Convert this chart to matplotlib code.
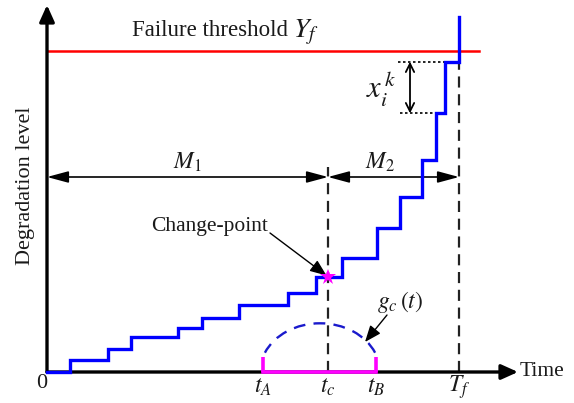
import matplotlib
matplotlib.use("Agg")
import matplotlib.pyplot as plt
from matplotlib.patches import Arc

plt.rcParams["font.family"] = ["Liberation Serif", "DejaVu Serif"]
plt.rcParams["mathtext.fontset"] = "stix"

# Degradation path: jump times and levels reached after each jump
jump_times = [2.3, 6.1, 8.4, 13.1, 15.5, 19.2, 24.1, 26.9, 29.5, 33.0, 35.3, 37.5, 38.9, 39.8, 41.2]
jump_levels = [1.2, 2.3, 3.5, 4.4, 5.4, 6.7, 7.9, 9.5, 11.4, 14.4, 17.5, 21.2, 25.9, 31.0, 35.5]

threshold = 32.1          # failure threshold Y_f
t_A, t_c, t_B, T_f = 21.6, 28.1, 32.9, 41.2
change_level = 9.5        # level at the change-point
time_ticks = [t_A, t_c, t_B, T_f]
time_tick_labels = ["$t_A$", "$t_c$", "$t_B$", "$T_f$"]

# g_c(t) density sketch (elliptical arc)
g_center, g_width, g_height = 27.3, 12.0, 9.74

x_max, y_max = 47.1, 36.7
m_arrow_level = 19.5
xk_time, xk_low, xk_high = 36.3, 25.87, 31.03

fig = plt.figure(figsize=(5.74, 4.03), dpi=100)
ax = fig.add_axes([0, 0, 1, 1])
ax.set_xlim(-4.7, 52.7)
ax.set_ylim(-3.1, 37.2)
ax.axis("off")

txt = "#1a1a1a"

# Coordinate axes with arrowheads
ax.annotate("", xy=(x_max, 0), xytext=(0, 0),
            arrowprops=dict(arrowstyle="-|>,head_length=1.0,head_width=0.45",
                            lw=2.4, color="black", shrinkA=0, shrinkB=0), zorder=3)
ax.annotate("", xy=(0, y_max), xytext=(0, 0),
            arrowprops=dict(arrowstyle="-|>,head_length=1.0,head_width=0.45",
                            lw=2.4, color="black", shrinkA=0, shrinkB=0), zorder=3)

# Failure threshold
ax.plot([0, 43.2], [threshold, threshold], color="#ff0000", lw=1.8, zorder=2)
ax.text(24.7, 34.1, "Failure threshold ", fontsize=16.5, color=txt,
        ha="right", va="center")
ax.text(24.6, 34.0, "$Y_f$", fontsize=20, color=txt, ha="left", va="center")

# Degradation staircase
ax.step([0] + jump_times, [0] + jump_levels, where="post",
        color="#0000ff", lw=2.4, zorder=4, solid_joinstyle="miter")

# Vertical dashed guides at t_c and T_f
dash = (0, (5, 3))
ax.plot([t_c, t_c], [0, 20.5], color="#222222", lw=1.6, linestyle=dash, zorder=2)
ax.plot([T_f, T_f], [0, xk_high], color="#222222", lw=1.6, linestyle=dash, zorder=2)

# M1 and M2 spans
for a, b in [(0, t_c), (t_c, T_f)]:
    ax.annotate("", xy=(b, m_arrow_level), xytext=(a, m_arrow_level),
                arrowprops=dict(arrowstyle="<|-|>,head_length=1.3,head_width=0.35",
                                lw=1.2, color="black", shrinkA=0, shrinkB=0))
ax.text(14.0, 21.0, "$M_1$", fontsize=17, color=txt, ha="center", va="center")
ax.text(33.3, 21.0, "$M_2$", fontsize=17, color=txt, ha="center", va="center")

# Jump size x_i^k
ax.plot([35.1, 39.8], [xk_high, xk_high], color="black", lw=1.2, linestyle=(0, (1.5, 1.5)))
ax.plot([35.3, 38.9], [xk_low, xk_low], color="black", lw=1.2, linestyle=(0, (1.5, 1.5)))
ax.annotate("", xy=(xk_time, xk_high), xytext=(xk_time, xk_low),
            arrowprops=dict(arrowstyle="<->,head_length=0.6,head_width=0.3",
                            lw=1.3, color="black", shrinkA=0, shrinkB=0))
ax.text(33.4, 28.4, "$x_i^{\\,k}$", fontsize=22, color=txt, ha="center", va="center")

# Change-point
ax.annotate("", xy=(t_c - 0.15, change_level + 0.15), xytext=(22.3, 13.9),
            arrowprops=dict(arrowstyle="-|>,head_length=1.0,head_width=0.4",
                            lw=1.0, color="black", shrinkA=0, shrinkB=0))
ax.plot([t_c], [change_level], marker="*", color="#ff00ff", markersize=12, zorder=6,
        markeredgewidth=0)
ax.text(16.3, 14.6, "Change-point", fontsize=15.5, color=txt, ha="center", va="center")

# Change-point window [t_A, t_B] and density g_c(t)
ax.plot([t_A, t_B], [0, 0], color="#ff00ff", lw=2.6, zorder=4)
for t in (t_A, t_B):
    ax.plot([t, t], [0, 1.5], color="#ff00ff", lw=2.6, zorder=4, solid_capstyle="butt")
ax.add_patch(Arc((g_center, 0), g_width, g_height, theta1=19.3, theta2=160.7,
                 color="#1a1acc", lw=1.7, linestyle=(0, (5, 3.5))))
ax.annotate("", xy=(31.8, 3.0), xytext=(34.0, 5.7),
            arrowprops=dict(arrowstyle="-|>,head_length=1.0,head_width=0.4",
                            lw=1.0, color="black", shrinkA=0, shrinkB=0))
ax.text(35.3, 7.0, "$g_c\\,(t)$", fontsize=17, color=txt, ha="center", va="center")

# Tick labels on the time axis
for t, lab in zip(time_ticks, time_tick_labels):
    ax.text(t, -1.55, lab, fontsize=17, color=txt, ha="center", va="center")
ax.text(-0.55, -1.1, "0", fontsize=16, color=txt, ha="center", va="center")
ax.text(47.3, 0.0, "Time", fontsize=15.5, color=txt, ha="left", va="center")
ax.text(-2.1, 18.6, "Degradation level", fontsize=16, color=txt, rotation=90,
        ha="center", va="center")

fig.savefig("out.png", dpi=100)
